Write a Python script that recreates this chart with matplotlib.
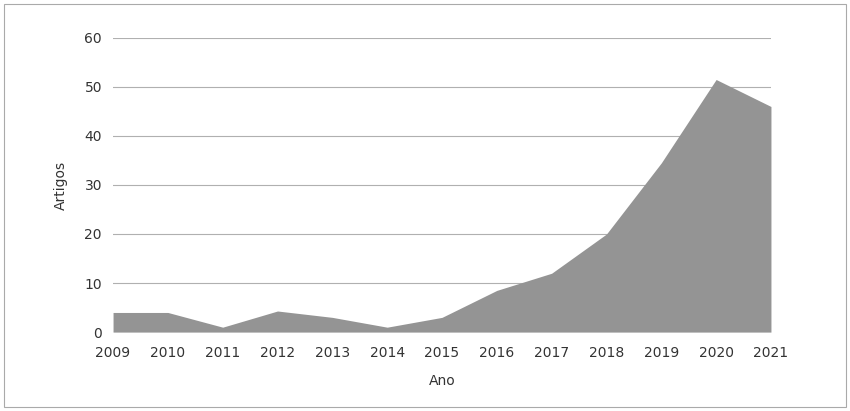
import matplotlib
matplotlib.use("Agg")
import matplotlib.pyplot as plt
from matplotlib.patches import Rectangle

years = [2009, 2010, 2011, 2012, 2013, 2014, 2015, 2016, 2017, 2018, 2019, 2020, 2021]
artigos = [4, 4, 1, 4.3, 3, 1, 3, 8.5, 12, 20, 34.5, 51.5, 46]
yticks = [0, 10, 20, 30, 40, 50, 60]

fig = plt.figure(figsize=(8.5, 4.11), dpi=100)
ax = fig.add_axes([0.133, 0.192, 0.774, 0.716])
ax.fill_between(years, artigos, 0, color="#949494", linewidth=0, zorder=2)
ax.set_xlim(2009, 2021)
ax.set_ylim(0, 60)
ax.set_yticks(yticks)
ax.set_xticks(years)
ax.grid(axis="y", color="#b0b0b0", linewidth=0.8, zorder=0)
for s in ax.spines.values():
    s.set_visible(False)
ax.tick_params(length=0, labelsize=10, colors="#333333", pad=8)
ax.tick_params(axis="x", pad=10)
ax.set_xlabel("Ano", fontsize=10, color="#333333", labelpad=10)
ax.set_ylabel("Artigos", fontsize=10, color="#333333", labelpad=12)
fig.patches.append(Rectangle((0.005, 0.01), 0.99, 0.98, transform=fig.transFigure,
                             fill=False, edgecolor="#aaaaaa", linewidth=0.8))
fig.savefig("out.png", dpi=100, facecolor="white")
